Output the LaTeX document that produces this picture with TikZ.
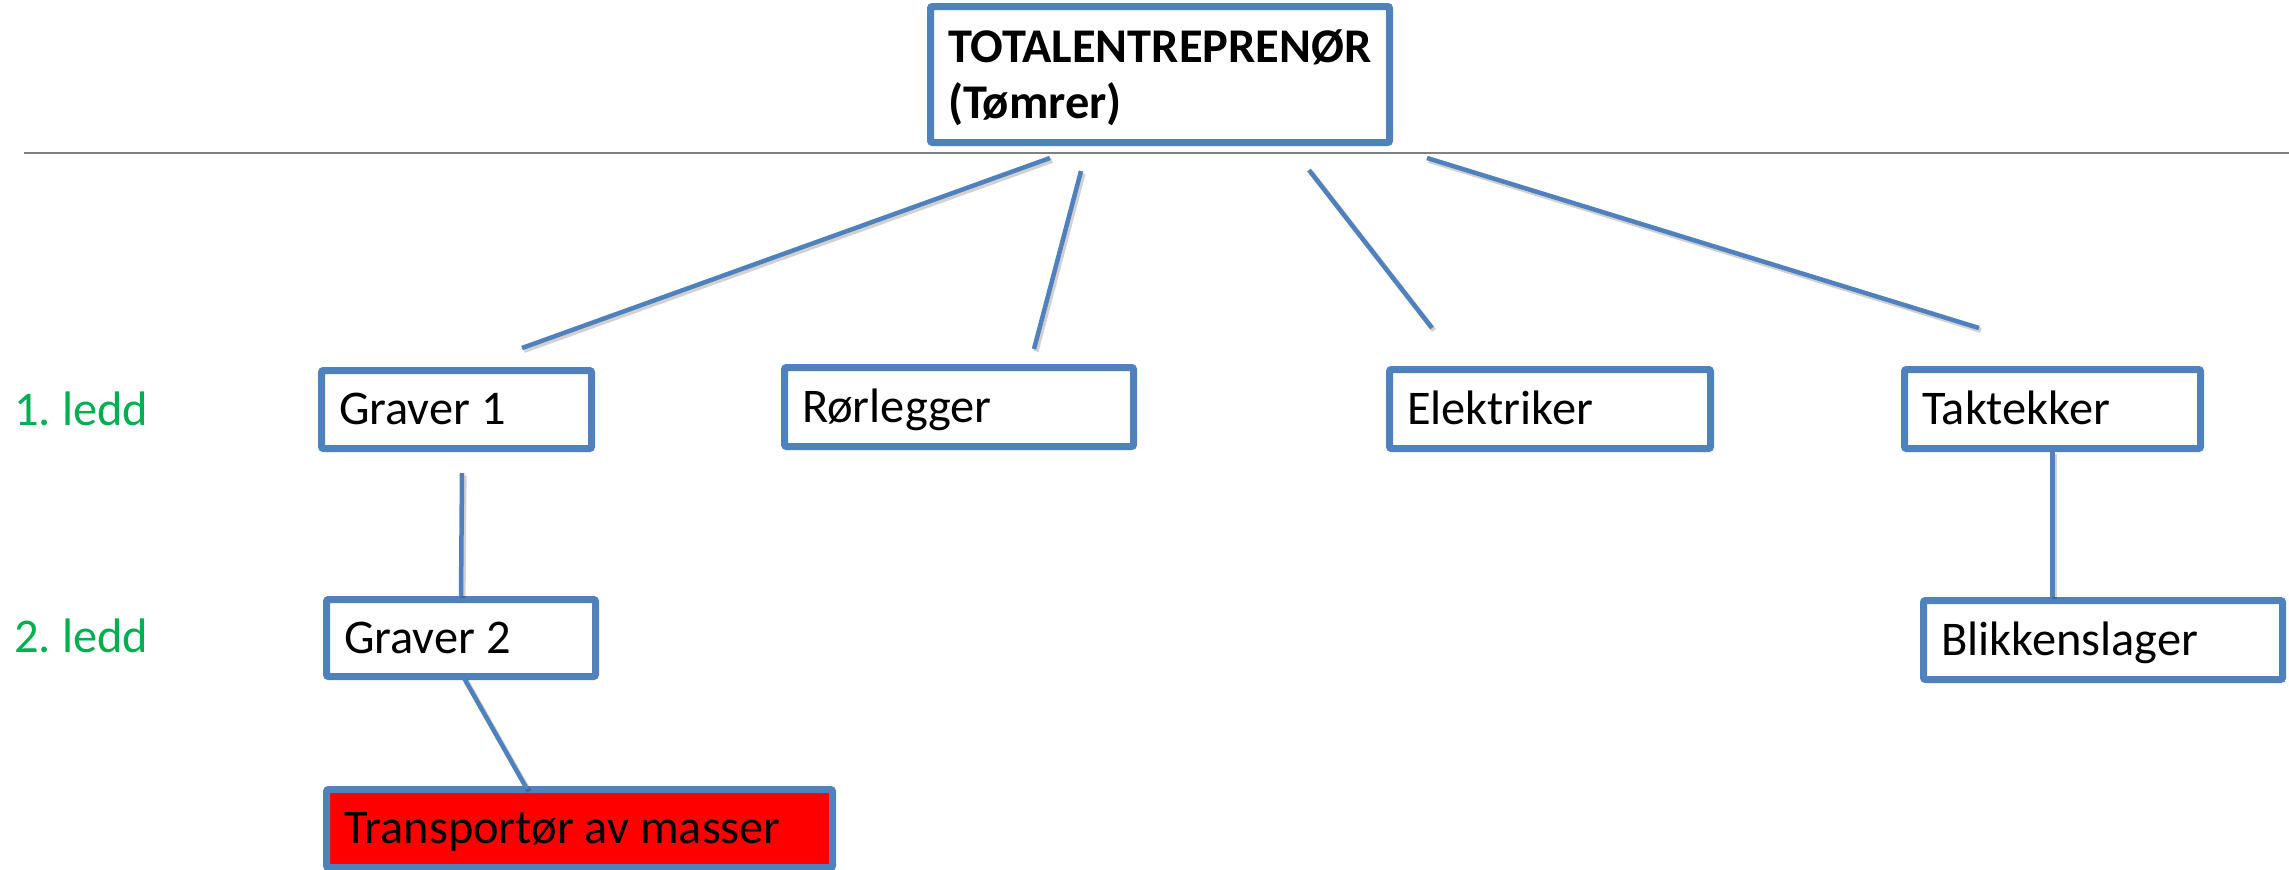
\documentclass[tikz,border=0pt]{standalone}
\usepackage{fontspec}
\setmainfont{Carlito}
\frenchspacing
\definecolor{boxblue}{RGB}{79,129,189}
\definecolor{leddgreen}{RGB}{0,176,80}
\definecolor{rulegray}{RGB}{128,128,128}
\definecolor{boxred}{RGB}{255,0,0}
\newcommand{\boxtxt}[2]{\makebox[#1][l]{#2}}
\begin{document}
\begin{tikzpicture}[x=0.5pt,y=-0.5pt,
  every node/.style={font=\fontsize{24.2pt}{28pt}\selectfont\frenchspacing},
  orgbox/.style={draw=boxblue, line width=3.5pt, fill=white, rectangle,
    rounded corners=1pt, inner xsep=8.75pt, inner ysep=2pt,
    text height=15pt, text depth=0pt, anchor=center},
  conn/.style={draw=boxblue, line width=2.25pt,
    preaction={draw=black, opacity=0.18, line width=2.6pt,
      transform canvas={xshift=1pt,yshift=-1.2pt}}},
  ledd/.style={text=leddgreen, anchor=base west, inner sep=0pt}
]
\useasboundingbox (0,0) rectangle (2289,869);

% horizontal rule
\coordinate (ruleL) at (24,153);
\coordinate (ruleR) at (2289,153);
\draw[rulegray, line width=1pt] (ruleL) -- (ruleR);

% free connector ends
\coordinate (a1) at (1050,158); \coordinate (b1) at (522,348);
\coordinate (a2) at (1081,171); \coordinate (b2) at (1034,349);
\coordinate (a3) at (1309,170); \coordinate (b3) at (1432,328);
\coordinate (a4) at (1427,158); \coordinate (b4) at (1979,328);
\coordinate (a5) at (462,473);
\coordinate (a6) at (464,678); \coordinate (b6) at (527,789);

% boxes
\node[orgbox, minimum width=229.5pt, minimum height=68pt, text width=212pt,
      align=left, text depth=27.5pt,
      font=\fontsize{24.2pt}{28pt}\selectfont\bfseries]
      (top) at (1160,74.5) {TOTALENTREPRENØR\\(Tømrer)};
\node[orgbox, minimum width=135pt, minimum height=39pt]
      (g1) at (456.5,409.5) {\boxtxt{117.5pt}{Graver 1}};
\node[orgbox, minimum width=174.5pt, minimum height=39.5pt]
      (ror) at (959,407) {\boxtxt{157pt}{Rørlegger}};
\node[orgbox, minimum width=160.5pt, minimum height=39.5pt]
      (el) at (1550,409) {\boxtxt{143pt}{Elektriker}};
\node[orgbox, minimum width=148pt, minimum height=39.5pt]
      (tak) at (2052.5,409) {\boxtxt{130.5pt}{Taktekker}};
\node[orgbox, minimum width=134.5pt, minimum height=38.5pt]
      (g2) at (461,638) {\boxtxt{117pt}{Graver 2}};
\node[orgbox, minimum width=179.5pt, minimum height=39.5pt]
      (blik) at (2103,640) {\boxtxt{162pt}{Blikkenslager}};
\node[orgbox, fill=boxred, minimum width=253pt, minimum height=39pt]
      (trans) at (579.5,828.5) {\boxtxt{235.5pt}{Transportør av masser}};

% connectors
\draw[conn] (a1) -- (b1);
\draw[conn] (a2) -- (b2);
\draw[conn] (a3) -- (b3);
\draw[conn] (a4) -- (b4);
\draw[conn] (a5) -- (g2.north);
\draw[conn] (a6) -- (b6);
\draw[conn] (tak.south) -- (tak.south |- blik.north);

% level labels
\node[ledd] (l1) at (14,425) {1. ledd};
\node[ledd] (l2) at (14,652) {2. ledd};
\end{tikzpicture}
\end{document}
